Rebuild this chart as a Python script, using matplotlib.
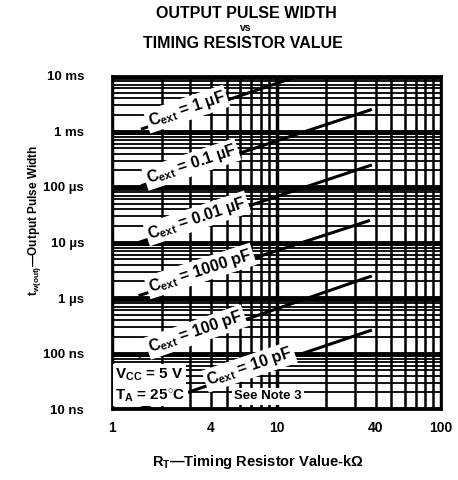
import numpy as np
import matplotlib
matplotlib.use('Agg')
import matplotlib.pyplot as plt
from matplotlib.ticker import FixedLocator, NullFormatter

plt.rcParams['font.family'] = ['Liberation Sans', 'DejaVu Sans']
plt.rcParams['font.weight'] = 'bold'
plt.rcParams['mathtext.fontset'] = 'custom'
plt.rcParams['mathtext.rm'] = 'Liberation Sans:bold'
plt.rcParams['mathtext.bf'] = 'Liberation Sans:bold'
plt.rcParams['mathtext.it'] = 'Liberation Sans:bold'
plt.rcParams['mathtext.default'] = 'bf'

# curves: (R in kOhm, tw in s) at each end
cext_labels = ['1 µF', '0.1 µF', '0.01 µF', '1000 pF', '100 pF', '10 pF']
r_start = [1.5, 1.5, 1.45, 1.45, 1.45, 1.45]
tw_start = [1.1e-3, 1.05e-4, 1.0e-5, 1.1e-6, 8.8e-8, 1.0e-8]
r_end = [13.6, 38.0, 38.0, 37.0, 38.0, 38.0]
tw_end = [1.0e-2, 2.5e-3, 2.5e-4, 2.5e-5, 2.5e-6, 2.65e-7]
label_r = [2.9, 3.1, 3.35, 3.5, 3.3, 7.0]

x_ticks = [1, 4, 10, 40, 100]
y_ticks = [1e-8, 1e-7, 1e-6, 1e-5, 1e-4, 1e-3, 1e-2]
y_ticklabels = ['10 ns', '100 ns', '1 µs', '10 µs', '100 µs', '1 ms', '10 ms']

fig = plt.figure(figsize=(4.58, 4.80), dpi=100)
ax = fig.add_axes([112 / 458, 71 / 480, 329 / 458, 333 / 480])
ax.set_xscale('log')
ax.set_yscale('log')
ax.set_xlim(1, 100)
ax.set_ylim(1e-8, 1e-2)

# log paper grid
minor_x = [m * d for d in [1, 10] for m in range(2, 10)]
minor_y = [m * d for d in y_ticks[:-1] for m in range(2, 10)]
for v in minor_x:
    ax.axvline(v, color='black', lw=1.8, zorder=1)
for v in minor_y:
    ax.axhline(v, color='black', lw=1.3, zorder=1)
for v in [1, 10, 100]:
    ax.axvline(v, color='black', lw=2.5, zorder=1)
for v in y_ticks:
    ax.axhline(v, color='black', lw=3.5, zorder=1)

ax.xaxis.set_major_locator(FixedLocator(x_ticks))
ax.set_xticklabels([str(t) for t in x_ticks])
ax.xaxis.set_minor_formatter(NullFormatter())
ax.yaxis.set_major_locator(FixedLocator(y_ticks))
ax.set_yticklabels(y_ticklabels)
ax.yaxis.set_minor_formatter(NullFormatter())
ax.tick_params(which='both', length=0)
ax.tick_params(axis='x', pad=9, labelsize=10)
ax.tick_params(axis='y', pad=20, labelsize=9.5)
for s in ax.spines.values():
    s.set_linewidth(2)

for i, lab in enumerate(cext_labels):
    ax.plot([r_start[i], r_end[i]], [tw_start[i], tw_end[i]],
            color='black', lw=2.2, zorder=3, solid_capstyle='butt')
    p0 = ax.transData.transform((r_start[i], tw_start[i]))
    p1 = ax.transData.transform((r_end[i], tw_end[i]))
    ang = np.degrees(np.arctan2(p1[1] - p0[1], p1[0] - p0[0]))
    lx = label_r[i]
    ly = np.exp(np.interp(np.log(lx), [np.log(r_start[i]), np.log(r_end[i])],
                          [np.log(tw_start[i]), np.log(tw_end[i])]))
    ax.text(lx, ly, 'C$_{ext}$ = ' + lab, rotation=ang, rotation_mode='anchor',
            ha='center', va='baseline', fontsize=11.5, fontweight='bold', zorder=5,
            bbox=dict(facecolor='white', edgecolor='none', pad=1.5))

ax.text(1.05, 4.2e-8, 'V$_{CC}$ = 5 V', fontsize=11, fontweight='bold',
        va='center', ha='left', zorder=6,
        bbox=dict(facecolor='white', edgecolor='none', pad=1.5))
ax.text(1.05, 1.75e-8, 'T$_A$ = 25$^{\\circ}$C', fontsize=11, fontweight='bold',
        va='center', ha='left', zorder=6,
        bbox=dict(facecolor='white', edgecolor='none', pad=1.5))
ax.text(8.9, 1.68e-8, 'See Note 3', fontsize=9.5, fontweight='bold',
        va='center', ha='center', zorder=6,
        bbox=dict(facecolor='white', edgecolor='none', pad=1.5))

fig.text(246 / 458, 1 - 13 / 480, 'OUTPUT PULSE WIDTH', ha='center', va='center',
         fontsize=11.5, fontweight='bold')
fig.text(246 / 458, 1 - 28 / 480, 'vs', ha='center', va='center',
         fontsize=7.5, fontweight='bold')
fig.text(243 / 458, 1 - 44 / 480, 'TIMING RESISTOR VALUE', ha='center', va='center',
         fontsize=11.5, fontweight='bold')
fig.text(258 / 458, 1 - 462 / 480, 'R$_T$—Timing Resistor Value-kΩ', ha='center',
         va='center', fontsize=10.5, fontweight='bold')
fig.text(35 / 458, 1 - 220 / 480, 't$_{w(out)}$—Output Pulse Width', ha='center',
         va='center', rotation=90, fontsize=8.5, fontweight='bold')

fig.savefig('out.png', dpi=100)
